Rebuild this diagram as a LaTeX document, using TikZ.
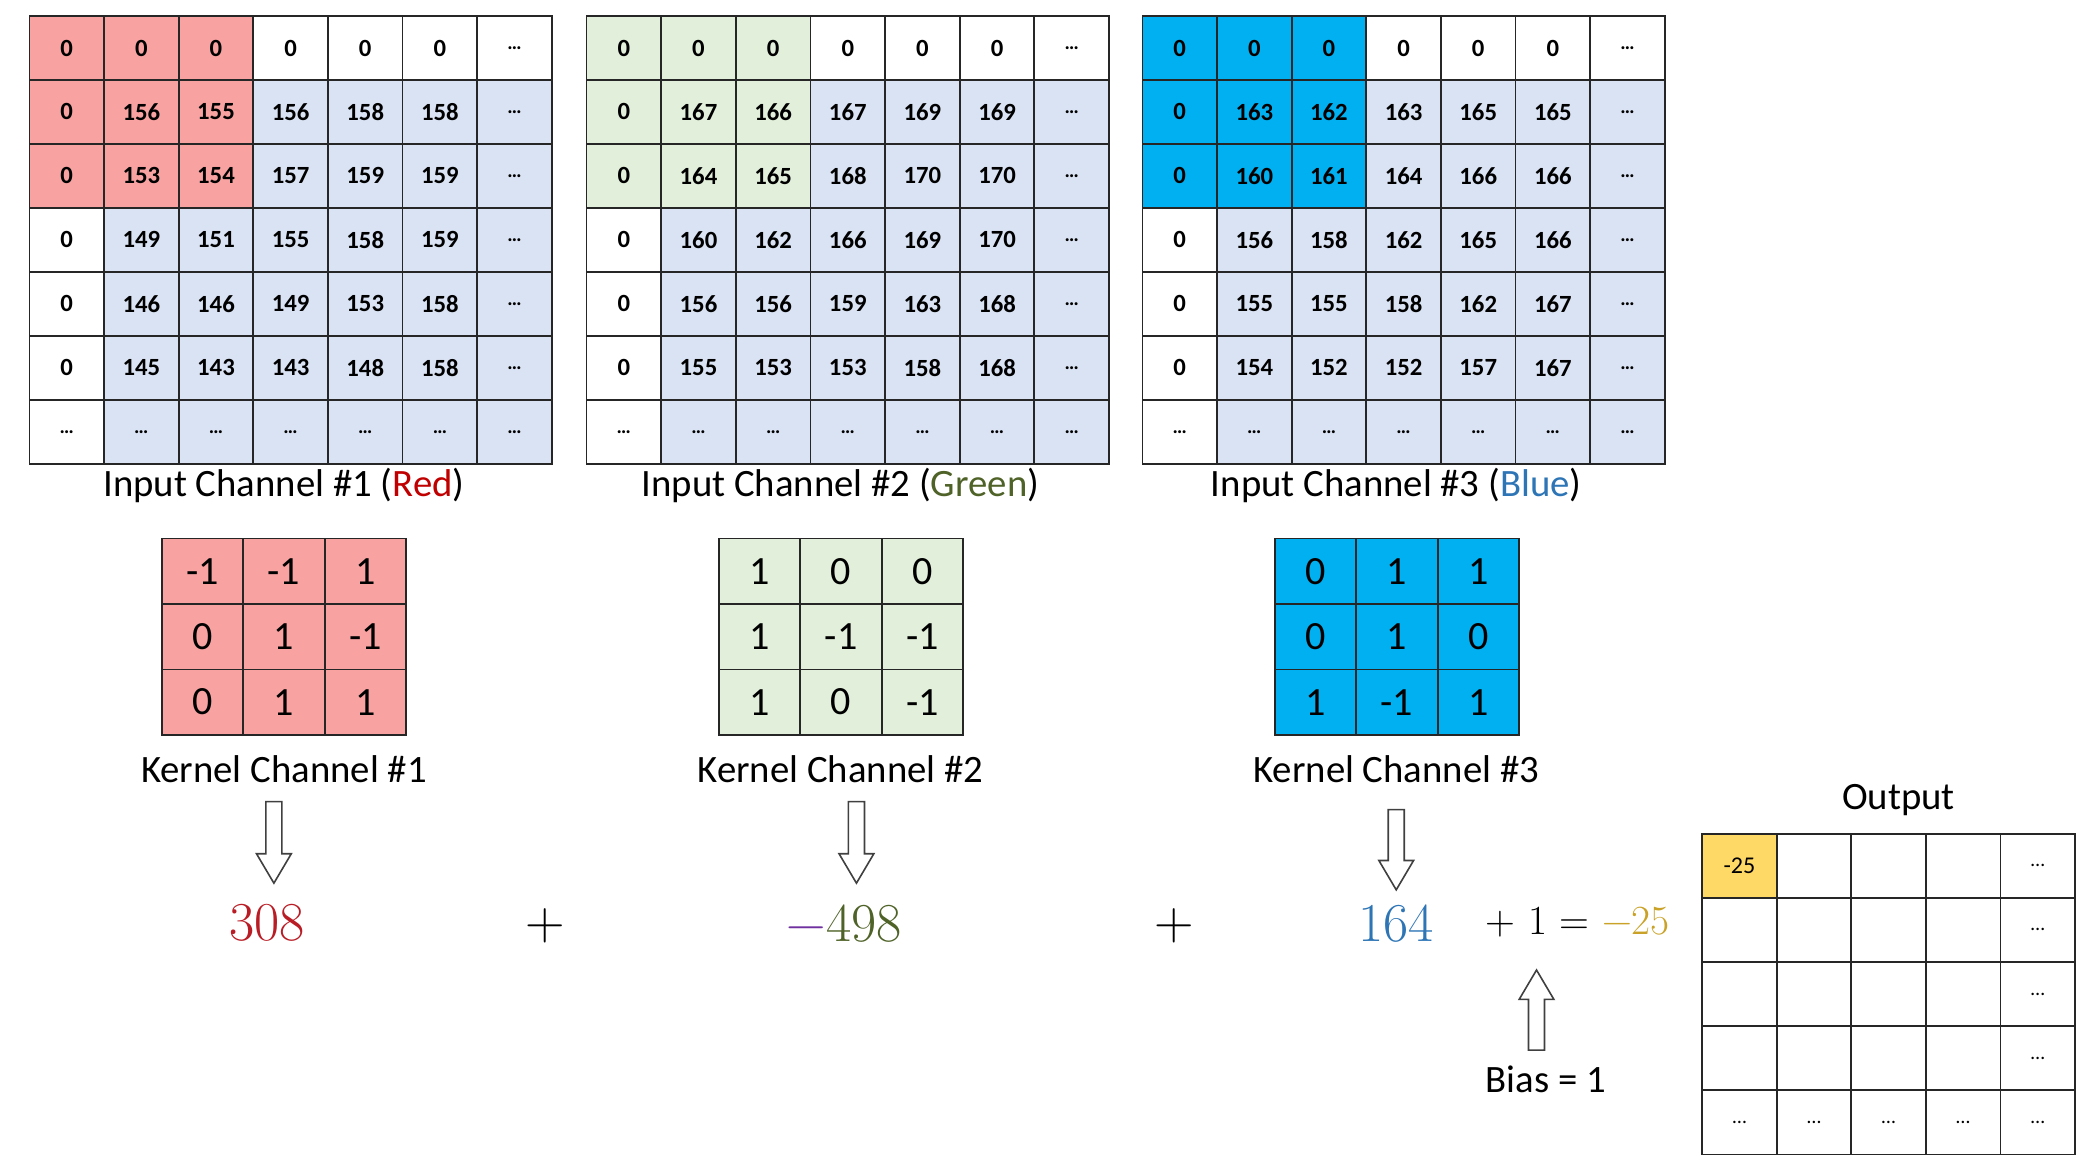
\documentclass[tikz,border=0pt]{standalone}
\usepackage{fontspec}
\setmainfont{Carlito}
\usetikzlibrary{calc}
\definecolor{hlred}{RGB}{248,162,162}
\definecolor{cellblue}{RGB}{218,227,243}
\definecolor{hlgreen}{RGB}{226,239,218}
\definecolor{hlblue}{RGB}{0,176,240}
\definecolor{outyellow}{RGB}{255,217,102}
\definecolor{txtred}{RGB}{192,0,0}
\definecolor{txtgreen}{RGB}{79,98,40}
\definecolor{txtblue}{RGB}{46,117,182}
\definecolor{txtpurple}{RGB}{112,48,160}
\definecolor{txtgold}{RGB}{201,162,39}
\definecolor{numred}{RGB}{185,28,36}
\newcommand{\cdts}{{\fontsize{15}{15}\selectfont …}}
\newcommand{\cw}{55.86}
\newcommand{\ch}{47.86}
\newcommand{\ingrid}[4]{%
  \foreach \rowdata [count=\ri from 0] in {#4} {
    \foreach \val [count=\ci from 0] in \rowdata {
      \pgfmathtruncatemacro{\kind}{(\ri<3 && \ci<3) ? 1 : ((\ri==0 || \ci==0) ? 0 : 2)}
      \ifcase\kind \def\fc{white}\or \def\fc{#3}\or \def\fc{cellblue}\fi
      \node[incell, fill=\fc] (#1-\ri-\ci) at ({#2+(\ci+0.5)*\cw}, {12+(\ri+0.5)*\ch}) {\val};
    }
  }
}
\newcommand{\kgrid}[4]{%
  \foreach \rowdata [count=\ri from 0] in {#4} {
    \foreach \val [count=\ci from 0] in \rowdata {
      \node[kcell, fill=#3] (#1-\ri-\ci) at ({#2+(\ci+0.5)*61}, {403+(\ri+0.5)*49}) {\val};
    }
  }
}
\newcommand{\hollowdown}[2]{%
  \draw[hollowarrow] ($(#1)+(-6,0)$) -- ($(#2)+(-6,-22)$) -- ($(#2)+(-13,-22)$) -- (#2)
    -- ($(#2)+(13,-22)$) -- ($(#2)+(6,-22)$) -- ($(#1)+(6,0)$) -- cycle;}
\newcommand{\hollowup}[2]{%
  \draw[hollowarrow] ($(#1)+(-6,0)$) -- ($(#2)+(-6,22)$) -- ($(#2)+(-13,22)$) -- (#2)
    -- ($(#2)+(13,22)$) -- ($(#2)+(6,22)$) -- ($(#1)+(6,0)$) -- cycle;}
\begin{document}
\begin{tikzpicture}[x=1pt,y=-1pt,
  incell/.style={draw=black!85, line width=1.3pt, minimum width=\cw pt, minimum height=\ch pt,
    inner sep=0pt, font=\fontsize{18.5}{18.5}\selectfont\bfseries},
  kcell/.style={draw=black!85, line width=1.3pt, minimum width=61pt, minimum height=49pt,
    inner sep=0pt, font=\fontsize{30}{30}\selectfont},
  outcell/.style={draw=black!85, line width=1.3pt, minimum width=55.8pt, minimum height=48pt,
    inner sep=0pt, font=\fontsize{18}{18}\selectfont},
  lbl/.style={inner sep=0pt, font=\fontsize{29}{29}\selectfont},
  eqn/.style={inner sep=0pt, font=\fontsize{41}{41}\fontfamily{lmr}\selectfont},
  eqsmall/.style={inner sep=0pt, font=\fontsize{31}{31}\fontfamily{lmr}\selectfont},
  hollowarrow/.style={draw=black!75, fill=white, line width=1.2pt, line join=miter}]
\useasboundingbox (0,0) rectangle (1568,878);

% input grids
\ingrid{ga}{22}{hlred}{{0,0,0,0,0,0,\cdts},{0,156,155,156,158,158,\cdts},{0,153,154,157,159,159,\cdts},{0,149,151,155,158,159,\cdts},{0,146,146,149,153,158,\cdts},{0,145,143,143,148,158,\cdts},{\cdts,\cdts,\cdts,\cdts,\cdts,\cdts,\cdts}}
\ingrid{gb}{439}{hlgreen}{{0,0,0,0,0,0,\cdts},{0,167,166,167,169,169,\cdts},{0,164,165,168,170,170,\cdts},{0,160,162,166,169,170,\cdts},{0,156,156,159,163,168,\cdts},{0,155,153,153,158,168,\cdts},{\cdts,\cdts,\cdts,\cdts,\cdts,\cdts,\cdts}}
\ingrid{gc}{855}{hlblue}{{0,0,0,0,0,0,\cdts},{0,163,162,163,165,165,\cdts},{0,160,161,164,166,166,\cdts},{0,156,158,162,165,166,\cdts},{0,155,155,158,162,167,\cdts},{0,154,152,152,157,167,\cdts},{\cdts,\cdts,\cdts,\cdts,\cdts,\cdts,\cdts}}

\node[lbl] (ic1) at (212.5,363) {Input Channel \#1 (\textcolor{txtred}{Red})};
\node[lbl] (ic2) at (629,363) {Input Channel \#2 (\textcolor{txtgreen}{Green})};
\node[lbl] (ic3) at (1045,363) {Input Channel \#3 (\textcolor{txtblue}{Blue})};

% kernels
\kgrid{ka}{121}{hlred}{{-1,-1,1},{0,1,-1},{0,1,1}}
\kgrid{kb}{538}{hlgreen}{{1,0,0},{1,-1,-1},{1,0,-1}}
\kgrid{kc}{954}{hlblue}{{0,1,1},{0,1,0},{1,-1,1}}

\node[lbl] (kl1) at (212.5,576) {Kernel Channel \#1};
\node[lbl] (kl2) at (629,576) {Kernel Channel \#2};
\node[lbl] (kl3) at (1045,576) {Kernel Channel \#3};

% equation
\node[eqn, text=numred] (n1) at (200,691) {308};
\node[eqn] (p1) at (408,693) {+};
\node[eqn] (n2) at (632,691) {\textcolor{txtpurple}{−}\textcolor{txtgreen}{498}};
\node[eqn] (p2) at (879,693) {+};
\node[eqn, text=txtblue] (n3) at (1045,691) {164};
\node[eqsmall] (res) at (1181,690) {+ 1 = \textcolor{txtgold}{−25}};
\node[lbl] (bias) at (1157,808) {Bias = 1};

% arrows
\coordinate (a1s) at (205,600); \coordinate (a1e) at (205,661);
\coordinate (a2s) at (641,600); \coordinate (a2e) at (641,661);
\coordinate (a3s) at (1045,606); \coordinate (a3e) at (1045,666);
\coordinate (b1s) at (1150,786); \coordinate (b1e) at (1150,726);
\hollowdown{a1s}{a1e}
\hollowdown{a2s}{a2e}
\hollowdown{a3s}{a3e}
\hollowup{b1s}{b1e}

% output
\node[lbl] (outl) at (1421,599) {Output};
\foreach \rowdata [count=\ri from 0] in {{-25,,,,\cdts},{,,,,\cdts},{,,,,\cdts},{,,,,\cdts},{\cdts,\cdts,\cdts,\cdts,\cdts}} {
  \foreach \val [count=\ci from 0] in \rowdata {
    \pgfmathtruncatemacro{\kind}{(\ri==0 && \ci==0) ? 1 : 0}
    \ifcase\kind \def\fc{white}\or \def\fc{outyellow}\fi
    \node[outcell, fill=\fc] (out-\ri-\ci) at ({1274+(\ci+0.5)*55.8}, {624+(\ri+0.5)*48}) {\val};
  }
}
\end{tikzpicture}
\end{document}
